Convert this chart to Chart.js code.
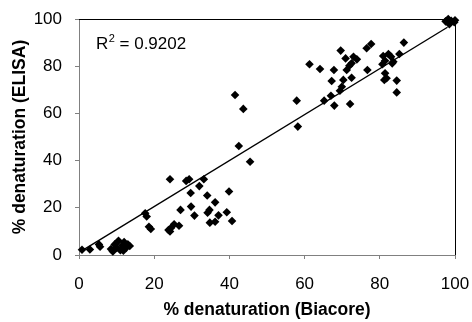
<!DOCTYPE html>
<html><head><meta charset="utf-8">
<script src="https://cdn.jsdelivr.net/npm/chart.js@4/dist/chart.umd.min.js"></script>
<style>html,body{margin:0;padding:0;background:#fff;}canvas{display:block}</style>
</head><body>
<canvas id="c" width="472" height="322"></canvas>
<script>
// % denaturation measured by Biacore (x) and ELISA (y)
const biacore = [
  0.8, 2.9, 5.3, 5.6,
  8.5, 9.0, 9.5, 10.0, 10.5, 11.0, 11.5, 11.8, 12.0, 12.5, 13.0, 13.5,
  17.6, 18.0, 18.6, 19.1,
  23.8, 24.2, 24.5, 25.3, 26.6,
  24.2, 28.5, 29.3, 33.2, 32.0, 29.7, 34.1, 36.2, 39.9,
  27.0, 29.8, 30.7, 34.7, 34.2, 39.3, 37.1, 34.8, 36.2, 40.7,
  41.5, 43.7, 42.5, 45.5,
  57.9, 58.2, 61.3, 64.1, 65.2, 67.0, 67.8, 67.9, 67.2, 69.6,
  70.3, 69.9, 69.4, 70.9, 71.2, 71.9, 72.5, 73.0, 73.9, 72.5, 72.1,
  76.5, 77.7, 76.7, 80.9, 82.3, 83.0, 80.7, 81.4, 83.6, 83.3, 85.2, 86.4,
  81.4, 81.8, 81.2, 84.5, 84.5,
  97.5, 98.2, 99.0, 99.8, 98.5, 100.0
];
const elisa = [
  2.2, 2.3, 4.5, 3.5,
  2.5, 1.5, 4.5, 3.0, 6.0, 2.0, 4.0, 1.8, 5.5, 3.0, 4.5, 3.8,
  17.7, 16.3, 12.0, 11.0,
  10.6, 10.0, 11.5, 13.0, 12.4,
  32.1, 31.4, 32.1, 32.1, 29.2, 26.3, 25.2, 22.3, 26.9,
  19.1, 20.5, 16.7, 19.1, 17.9, 18.1, 16.8, 13.7, 14.1, 14.4,
  67.8, 61.9, 46.2, 39.5,
  65.4, 54.4, 80.8, 78.8, 65.4, 67.5, 78.4, 63.3, 73.7, 86.6,
  74.2, 71.3, 69.6, 83.3, 78.4, 80.2, 81.2, 84.0, 82.9, 75.1, 64.0,
  87.6, 89.4, 78.4, 84.3, 85.2, 84.0, 80.8, 82.3, 81.9, 81.2, 85.2, 90.0,
  77.0, 74.9, 74.2, 73.9, 68.9,
  99.0, 100.0, 99.2, 98.6, 97.8, 99.5
];
// linear trend line end points
const trendX = [0.5, 98];
const trendY = [1.5, 96.5];
const xTicks = [0, 20, 40, 60, 80, 100];
const yTicks = [0, 20, 40, 60, 80, 100];
const xTitle = '% denaturation (Biacore)';
const yTitle = '% denaturation (ELISA)';
const r2Main = 'R';
const r2Sup = '2';
const r2Rest = ' = 0.9202';
const r2Pos = [4.5, 89.8];

const FONT = "'Liberation Sans', Arial, sans-serif";
const scatterData = biacore.map((x, i) => ({x: x, y: elisa[i]}));
const trendData = trendX.map((x, i) => ({x: x, y: trendY[i]}));

const framePlugin = {
  id: 'frame',
  afterDatasetsDraw(chart) {
    const {ctx, chartArea: a, scales} = chart;
    ctx.save();
    ctx.strokeStyle = '#000';
    ctx.lineWidth = 1;
    ctx.beginPath();
    ctx.moveTo(a.left, a.top + 0.5);
    ctx.lineTo(a.right + 0.5, a.top + 0.5);
    ctx.lineTo(a.right + 0.5, a.bottom);
    ctx.stroke();
    // R squared label
    const px = scales.x.getPixelForValue(r2Pos[0]);
    const py = scales.y.getPixelForValue(r2Pos[1]);
    ctx.fillStyle = '#000';
    ctx.textBaseline = 'alphabetic';
    ctx.textAlign = 'left';
    ctx.font = '17px ' + FONT;
    ctx.fillText(r2Main, px, py + 6);
    let w = ctx.measureText(r2Main).width;
    ctx.font = '11px ' + FONT;
    ctx.fillText(r2Sup, px + w + 0.5, py - 1);
    const w2 = ctx.measureText(r2Sup).width;
    ctx.font = '17px ' + FONT;
    ctx.fillText(r2Rest, px + w + w2 + 0.5, py + 6);
    ctx.restore();
  }
};

new Chart(document.getElementById('c'), {
  type: 'scatter',
  data: {
    datasets: [
      {
        type: 'line',
        data: trendData,
        borderColor: '#000',
        borderWidth: 1.4,
        pointRadius: 0,
        fill: false,
        order: 1
      },
      {
        data: scatterData,
        pointStyle: 'rectRot',
        pointRadius: 4.3,
        backgroundColor: '#000',
        borderColor: '#000',
        borderWidth: 0,
        clip: false,
        order: 0
      }
    ]
  },
  options: {
    responsive: false,
    animation: false,
    events: [],
    layout: {padding: {left: 0, right: 17, top: 19, bottom: 0}},
    plugins: {legend: {display: false}, tooltip: {enabled: false}},
    scales: {
      x: {
        type: 'linear', min: 0, max: 100,
        afterBuildTicks(s) { s.ticks = xTicks.map(v => ({value: v})); },
        afterFit(s) { s.height = 67; s.paddingLeft = 0; s.paddingRight = 0; },
        border: {display: true, color: '#808080', width: 1},
        grid: {display: true, drawOnChartArea: false, drawTicks: true, tickLength: 4, color: '#808080'},
        ticks: {color: '#000', font: {family: FONT, size: 17}, padding: 15, maxRotation: 0},
        title: {display: true, text: xTitle, color: '#000', font: {family: FONT, size: 17.5, weight: 'bold'}, padding: {top: 0, bottom: 1.5}}
      },
      y: {
        type: 'linear', min: 0, max: 100,
        afterBuildTicks(s) { s.ticks = yTicks.map(v => ({value: v})); },
        afterFit(s) { s.width = 79; s.paddingTop = 0; s.paddingBottom = 0; },
        border: {display: true, color: '#808080', width: 1},
        grid: {display: true, drawOnChartArea: false, drawTicks: true, tickLength: 4, color: '#808080'},
        ticks: {color: '#000', font: {family: FONT, size: 17}, padding: 13},
        title: {display: true, text: yTitle, color: '#000', font: {family: FONT, size: 17.5, weight: 'bold'}, padding: {top: 9.5, bottom: 0}}
      }
    }
  },
  plugins: [framePlugin]
});
</script>
</body></html>
